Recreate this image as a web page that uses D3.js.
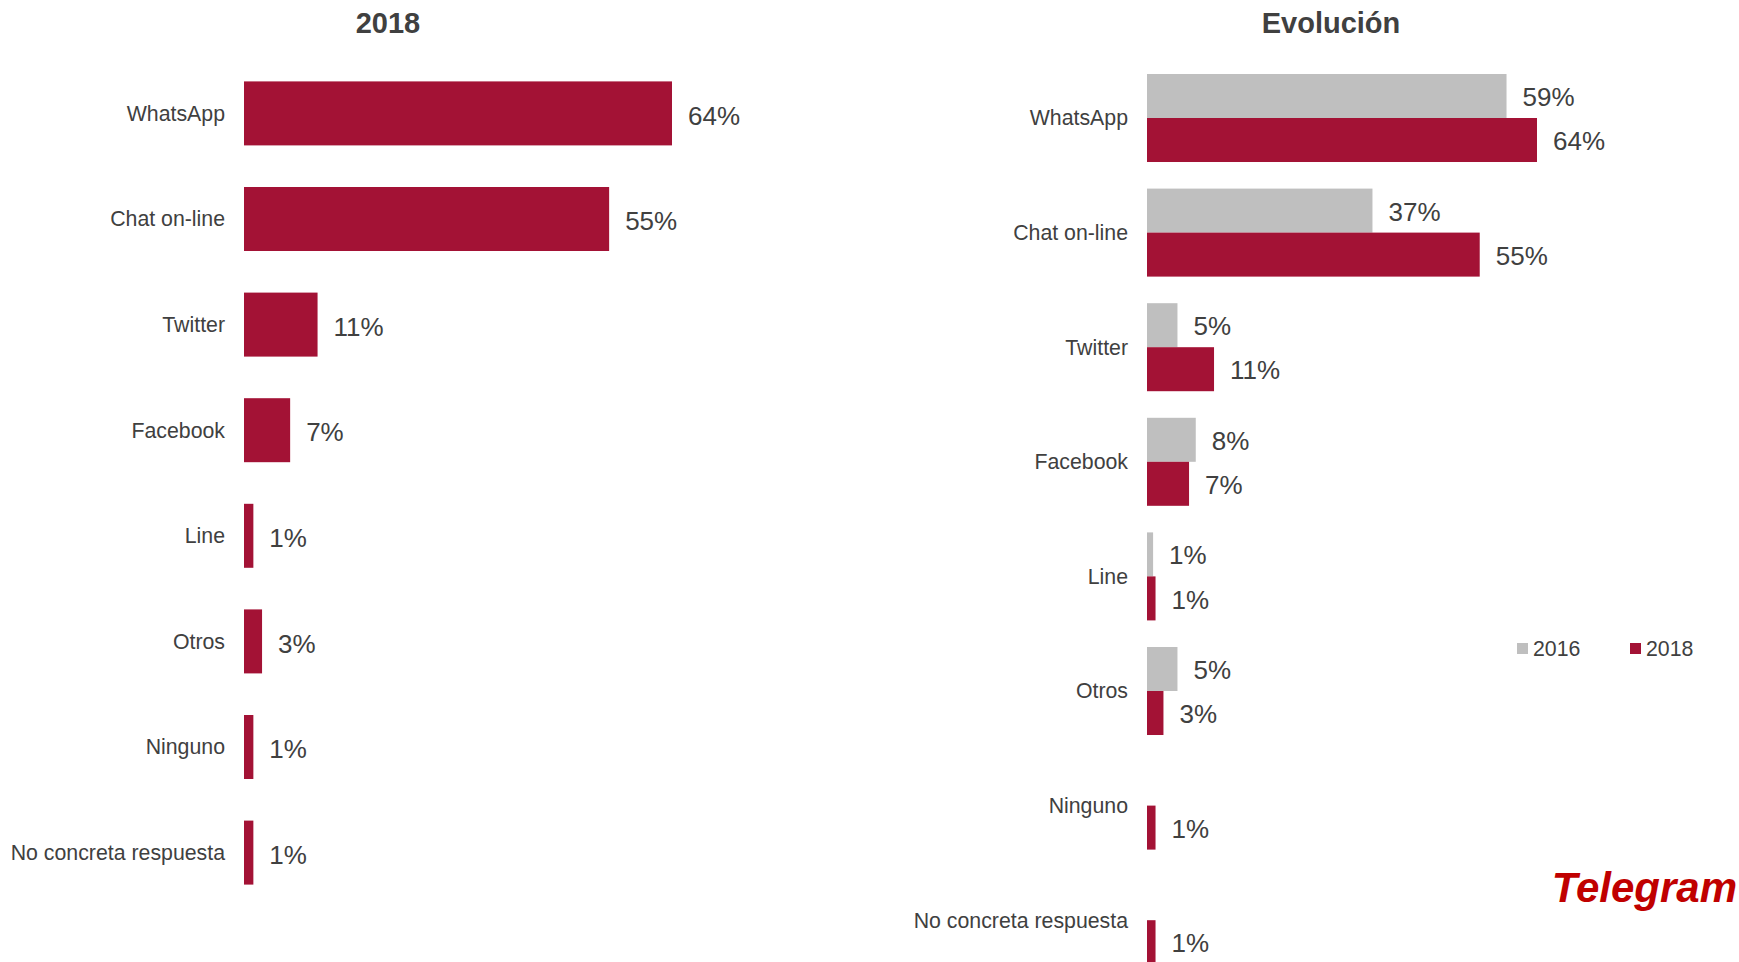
<!DOCTYPE html>
<html>
<head>
<meta charset="utf-8">
<script src="https://cdn.jsdelivr.net/npm/d3@7"></script>
<style>
  html, body { margin: 0; padding: 0; background: #ffffff; }
  svg { display: block; font-family: "Liberation Sans", Arial, sans-serif; }
</style>
</head>
<body>
<svg id="chart" width="1739" height="962"></svg>
<script>
// ---- Data (percent; labels are rounded) ----
const categories = ["WhatsApp", "Chat on-line", "Twitter", "Facebook", "Line", "Otros", "Ninguno", "No concreta respuesta"];
const values2018 = [64, 54.6, 11, 6.9, 1.4, 2.7, 1.4, 1.4];
const values2016 = [59, 37, 5, 8, 1, 5, null, null];
const seriesNames = ["2016", "2018"];
const titles = ["2018", "Evolución"];
const watermark = "Telegram";

// ---- Styles ----
const RED = "#A31235";
const GRAY = "#BFBFBF";
const TEXT = "#404040";

const svg = d3.select("#chart");
svg.append("rect").attr("width", 1739).attr("height", 962).attr("fill", "#fff");

const fmt = v => Math.round(v) + "%";

// ================= Left panel: 2018 =================
const xL = d3.scaleLinear().domain([0, 64]).range([244, 672]);
const yL = d3.scaleBand().domain(categories).range([60.6, 905.4])
  .paddingInner(0.394).paddingOuter(0.197);

const left = svg.append("g");
left.append("text")
  .attr("x", 388).attr("y", 33)
  .attr("text-anchor", "middle")
  .attr("font-size", 29).attr("font-weight", "bold")
  .attr("fill", TEXT).text(titles[0]);

const dataL = categories.map((c, i) => ({ cat: c, v: values2018[i] }));

left.selectAll("rect.bar").data(dataL).join("rect")
  .attr("class", "bar")
  .attr("x", xL(0))
  .attr("y", d => yL(d.cat))
  .attr("width", d => xL(d.v) - xL(0))
  .attr("height", yL.bandwidth())
  .attr("fill", RED);

left.selectAll("text.cat").data(dataL).join("text")
  .attr("class", "cat")
  .attr("x", 225)
  .attr("y", d => yL(d.cat) + yL.bandwidth() / 2)
  .attr("dy", "0.35em")
  .attr("text-anchor", "end")
  .attr("font-size", 21.3)
  .attr("fill", TEXT)
  .text(d => d.cat);

left.selectAll("text.val").data(dataL).join("text")
  .attr("class", "val")
  .attr("x", d => xL(d.v) + 16)
  .attr("y", d => yL(d.cat) + yL.bandwidth() / 2 + 2)
  .attr("dy", "0.35em")
  .attr("font-size", 26)
  .attr("fill", TEXT)
  .text(d => fmt(d.v));

// ================= Right panel: Evolución =================
const xR = d3.scaleLinear().domain([0, 64]).range([1147, 1537]);
const yR = d3.scaleBand().domain(categories).range([60.7, 977.5])
  .paddingInner(0.232).paddingOuter(0.116);
const ySub = d3.scaleBand().domain(seriesNames).range([0, yR.bandwidth()]);
const color = d3.scaleOrdinal().domain(seriesNames).range([GRAY, RED]);

const right = svg.append("g");
right.append("text")
  .attr("x", 1331).attr("y", 33)
  .attr("text-anchor", "middle")
  .attr("font-size", 29).attr("font-weight", "bold")
  .attr("fill", TEXT).text(titles[1]);

const dataR = [];
categories.forEach((c, i) => {
  if (values2016[i] != null) dataR.push({ cat: c, s: "2016", v: values2016[i] });
  if (values2018[i] != null) dataR.push({ cat: c, s: "2018", v: values2018[i] });
});

right.selectAll("rect.bar").data(dataR).join("rect")
  .attr("class", "bar")
  .attr("x", xR(0))
  .attr("y", d => yR(d.cat) + ySub(d.s))
  .attr("width", d => xR(d.v) - xR(0))
  .attr("height", ySub.bandwidth())
  .attr("fill", d => color(d.s));

right.selectAll("text.val").data(dataR).join("text")
  .attr("class", "val")
  .attr("x", d => xR(d.v) + 16)
  .attr("y", d => yR(d.cat) + ySub(d.s) + ySub.bandwidth() / 2 + 1)
  .attr("dy", "0.35em")
  .attr("font-size", 26)
  .attr("fill", TEXT)
  .text(d => fmt(d.v));

right.selectAll("text.cat").data(categories).join("text")
  .attr("class", "cat")
  .attr("x", 1128)
  .attr("y", d => yR(d) + yR.bandwidth() / 2)
  .attr("dy", "0.35em")
  .attr("text-anchor", "end")
  .attr("font-size", 21.3)
  .attr("fill", TEXT)
  .text(d => d);

// Legend
const legendX = [1517, 1630];
const legend = svg.append("g");
seriesNames.forEach((s, i) => {
  legend.append("rect")
    .attr("x", legendX[i]).attr("y", 643)
    .attr("width", 11).attr("height", 11)
    .attr("fill", color(s));
  legend.append("text")
    .attr("x", legendX[i] + 16).attr("y", 648.5)
    .attr("dy", "0.35em")
    .attr("font-size", 21.3)
    .attr("fill", TEXT)
    .text(s);
});

// Watermark
svg.append("text")
  .attr("x", 1737).attr("y", 902)
  .attr("text-anchor", "end")
  .attr("font-size", 42)
  .attr("font-weight", "bold")
  .attr("font-style", "italic")
  .attr("fill", "#C00000")
  .text(watermark);
</script>
</body>
</html>
